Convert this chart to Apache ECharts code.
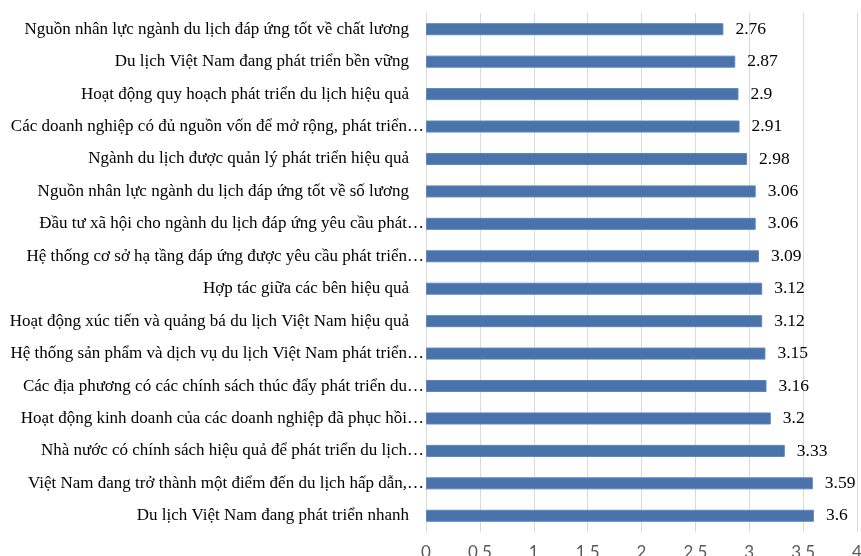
<!DOCTYPE html>
<html>
<head>
<meta charset="utf-8">
<script src="https://cdn.jsdelivr.net/npm/echarts@6/dist/echarts.min.js"></script>
<style>
  html, body { margin: 0; padding: 0; background: #ffffff; }
  #chart { width: 861px; height: 556px; }
</style>
</head>
<body>
<div id="chart"></div>
<script>
const categories = [
  "Nguồn nhân lực ngành du lịch đáp ứng tốt về chất lương",
  "Du lịch Việt Nam đang phát triển bền vững",
  "Hoạt động quy hoạch phát triển du lịch hiệu quả",
  "Các doanh nghiệp có đủ nguồn vốn để mở rộng, phát triển…",
  "Ngành du lịch được quản lý phát triển hiệu quả",
  "Nguồn nhân lực ngành du lịch đáp ứng tốt về số lương",
  "Đầu tư xã hội cho ngành du lịch đáp ứng yêu cầu phát…",
  "Hệ thống cơ sở hạ tầng đáp ứng được yêu cầu phát triển…",
  "Hợp tác giữa các bên hiệu quả",
  "Hoạt động xúc tiến và quảng bá du lịch Việt Nam hiệu quả",
  "Hệ thống sản phẩm và dịch vụ du lịch Việt Nam phát triển…",
  "Các địa phương có các chính sách thúc đẩy phát triển du…",
  "Hoạt động kinh doanh của các doanh nghiệp đã phục hồi…",
  "Nhà nước có chính sách hiệu quả để phát triển du lịch…",
  "Việt Nam đang trở thành một điểm đến du lịch hấp dẫn,…",
  "Du lịch Việt Nam đang phát triển nhanh"
];
const values = [2.76, 2.87, 2.9, 2.91, 2.98, 3.06, 3.06, 3.09, 3.12, 3.12, 3.15, 3.16, 3.2, 3.33, 3.59, 3.6];
const xTicks = { min: 0, max: 4, interval: 0.5 };

const chart = echarts.init(document.getElementById('chart'), null, { renderer: 'canvas' });
chart.setOption({
  animation: false,
  backgroundColor: '#ffffff',
  grid: { left: 426, right: 4, top: 13, bottom: 24, containLabel: false, outerBoundsMode: 'none' },
  xAxis: {
    type: 'value',
    min: xTicks.min, max: xTicks.max, interval: xTicks.interval,
    axisLine: { show: false },
    axisTick: { show: false },
    splitLine: { show: true, lineStyle: { color: '#d9d9d9', width: 1 } },
    axisLabel: {
      margin: 12,
      color: '#595959',
      fontFamily: 'Lato',
      fontSize: 17
    }
  },
  yAxis: {
    type: 'category',
    inverse: true,
    data: categories,
    axisLine: { show: true, lineStyle: { color: '#d9d9d9', width: 1 } },
    axisTick: { show: false },
    axisLabel: {
      margin: 2,
      color: '#000000',
      fontFamily: 'Liberation Serif',
      fontSize: 17,
      formatter: function (v) {
        if (v.endsWith('…')) return '{e|' + v + '}';
        return '{n|' + v + '}';
      },
      rich: {
        e: { fontFamily: 'Liberation Serif', fontSize: 17, color: '#000' },
        n: { fontFamily: 'Liberation Serif', fontSize: 17, color: '#000', padding: [0, 15, 0, 0] }
      }
    }
  },
  series: [{
    type: 'bar',
    data: values,
    barCategoryGap: '63%',
    itemStyle: { color: '#4A73AB', borderColor: '#5B85BF', borderWidth: 1 },
    label: {
      show: true,
      position: 'right',
      distance: 12,
      color: '#000000',
      fontFamily: 'Liberation Serif',
      fontSize: 17.5
    }
  }]
});
</script>
</body>
</html>
